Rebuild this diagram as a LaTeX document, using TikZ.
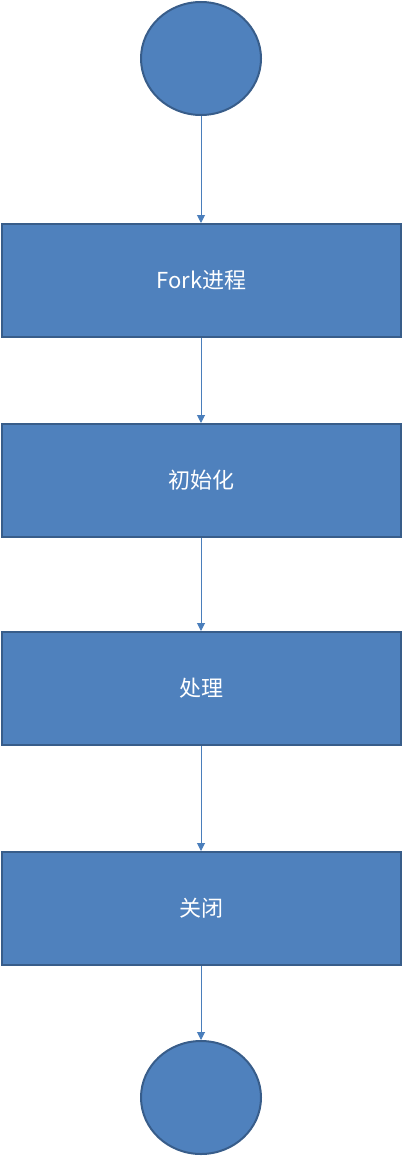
\documentclass[tikz,border=0pt]{standalone}
\usepackage{fontspec}
\newfontfamily\cjk{Noto Sans CJK SC}
\usetikzlibrary{arrows.meta,shapes.geometric}
\definecolor{fillblue}{HTML}{4F81BD}
\definecolor{edgeblue}{HTML}{385D8A}
\definecolor{lineblue}{HTML}{4A7EBB}
\tikzset{
  stepbox/.style={draw=edgeblue, line width=2pt, fill=fillblue, minimum width=399pt, minimum height=113pt, inner sep=0pt, text=white, font=\cjk\fontsize{22}{26}\selectfont},
  endpoint/.style={draw=edgeblue, line width=2pt, fill=fillblue, ellipse, minimum width=120pt, minimum height=113pt, inner sep=0pt},
  flow/.style={draw=lineblue, line width=1pt, -{Triangle[length=8pt,width=8pt]}}
}
\begin{document}
\begin{tikzpicture}[x=1pt,y=-1pt]
\useasboundingbox (0,0) rectangle (403,1156);
\node[endpoint] (start) at (201,58.5) {};
\node[stepbox] (fork) at (201.5,280.5) {Fork进程};
\node[stepbox] (init) at (201.5,480.5) {初始化};
\node[stepbox] (proc) at (201.5,688.5) {处理};
\node[stepbox] (close) at (201.5,908.5) {关闭};
\node[endpoint] (stop) at (201,1097.5) {};
\draw[flow] (start) -- (start |- fork.north);
\draw[flow] (fork.south -| start) -- (init.north -| start);
\draw[flow] (init.south -| start) -- (proc.north -| start);
\draw[flow] (proc.south -| start) -- (close.north -| start);
\draw[flow] (close.south -| start) -- (stop);
\end{tikzpicture}
\end{document}
